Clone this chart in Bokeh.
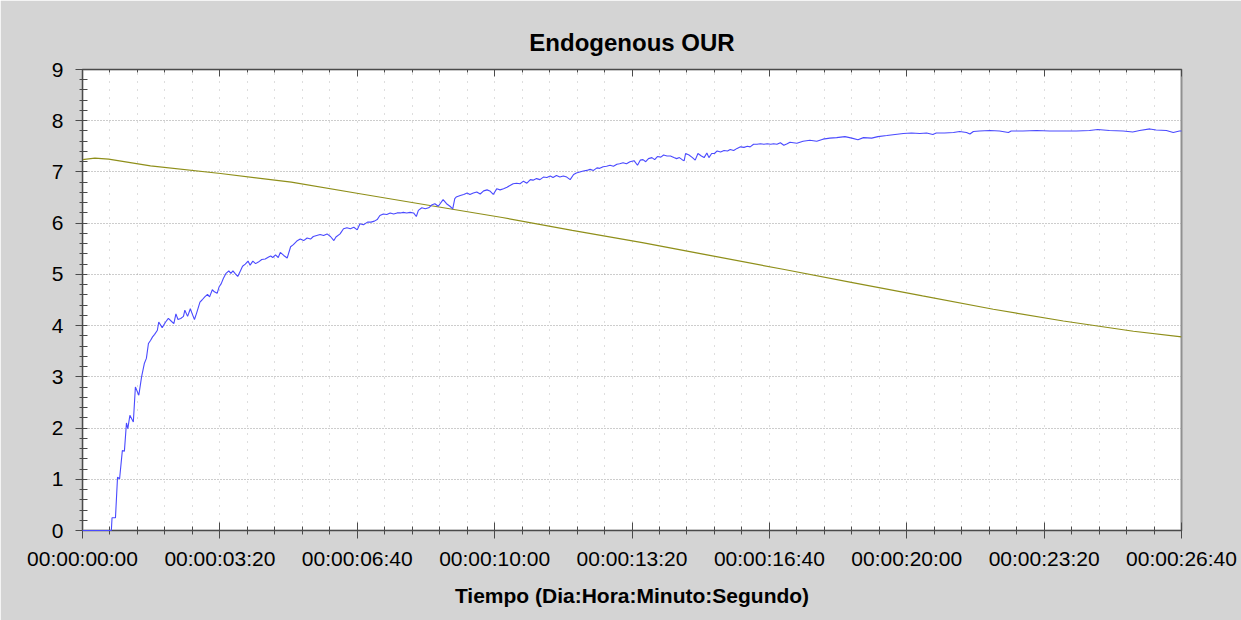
from bokeh.plotting import figure
from bokeh.models import Range1d, SingleIntervalTicker, LinearAxis, CustomJSTickFormatter
from bokeh.embed import file_html
from bokeh.resources import INLINE

# ---- data (time in seconds, OUR values) ----
our_t_a = [0, 42, 43, 48, 51, 54, 58, 61, 64, 66, 69, 74, 77, 82, 86, 90, 93, 96, 99, 102,
           105, 109, 111, 116, 121, 125, 129, 133, 136, 139, 143, 147, 149, 153, 157, 160, 163, 166, 171, 174,
           178, 182, 185, 189, 192, 196, 199, 202, 205, 209, 213, 216, 219, 222, 226, 230, 233, 237, 241, 244,
           248, 252, 256, 261, 266, 271, 274, 277, 281, 285]
our_v_a = [0, 0, 0.25, 0.25, 1.04, 1.01, 1.56, 1.55, 2.10, 1.99, 2.25, 2.12, 2.80, 2.64, 3.00, 3.26, 3.36, 3.65, 3.71, 3.78,
           3.83, 3.91, 4.07, 3.96, 4.07, 4.14, 4.09, 4.04, 4.23, 4.12, 4.14, 4.18, 4.30, 4.18, 4.33, 4.22, 4.12, 4.24, 4.46, 4.50,
           4.56, 4.61, 4.56, 4.70, 4.66, 4.63, 4.76, 4.82, 4.92, 5.02, 5.07, 5.02, 5.07, 5.02, 4.96, 5.07, 5.16, 5.20, 5.26, 5.18,
           5.26, 5.21, 5.24, 5.29, 5.30, 5.34, 5.36, 5.33, 5.38, 5.33]
our_t_b = [288, 293, 298, 303, 307, 312, 317, 322, 327, 332, 336, 341, 346, 351, 356, 361, 366, 369, 375, 380,
           385, 390, 395, 400, 404, 409, 415, 420, 425, 429, 433, 438, 443, 448, 453, 458, 463, 467, 472, 477,
           482, 486, 489, 494, 499, 504, 509, 513, 518, 525, 530, 535, 539, 542, 544, 550, 555, 560, 564, 569,
           574, 579, 584, 589, 593, 598, 603, 608, 613, 618, 623, 627, 632]
our_v_b = [5.43, 5.37, 5.32, 5.54, 5.58, 5.65, 5.69, 5.66, 5.71, 5.69, 5.74, 5.76, 5.78, 5.76, 5.79, 5.74, 5.66, 5.73, 5.79, 5.89,
           5.91, 5.89, 5.92, 5.87, 5.99, 5.97, 6.02, 6.02, 6.04, 6.07, 6.15, 6.18, 6.17, 6.20, 6.18, 6.20, 6.20, 6.21, 6.20, 6.21,
           6.20, 6.13, 6.25, 6.30, 6.28, 6.30, 6.36, 6.38, 6.33, 6.46, 6.38, 6.33, 6.28, 6.48, 6.51, 6.54, 6.56, 6.59, 6.56, 6.59,
           6.61, 6.57, 6.63, 6.65, 6.63, 6.56, 6.67, 6.65, 6.67, 6.70, 6.74, 6.77, 6.78]
our_t_c = [637, 642, 647, 652, 656, 661, 666, 671, 676, 681, 685, 690, 695, 700, 705, 710, 715, 719, 724, 729,
           734, 739, 744, 749, 753, 758, 763, 768, 773, 778, 782, 787, 792, 797, 803, 808, 812, 816, 820, 824,
           829, 833, 837, 842, 846, 851, 856, 861, 865, 869, 873, 876, 878, 883, 888, 892, 896, 901, 905, 909,
           912, 916, 920, 924, 929, 934, 939, 943, 948, 953, 958, 963, 968, 972, 977, 982, 987, 992, 997, 1002,
           1006, 1011, 1016, 1021, 1026]
our_v_c = [6.77, 6.82, 6.78, 6.85, 6.84, 6.87, 6.85, 6.90, 6.89, 6.92, 6.89, 6.93, 6.90, 6.92, 6.90, 6.85, 6.95, 6.98, 7.00, 7.02,
           7.03, 7.05, 7.03, 7.08, 7.07, 7.10, 7.11, 7.13, 7.11, 7.15, 7.16, 7.18, 7.16, 7.20, 7.22, 7.13, 7.23, 7.24, 7.20, 7.26,
           7.28, 7.24, 7.30, 7.29, 7.33, 7.31, 7.31, 7.28, 7.26, 7.28, 7.24, 7.22, 7.36, 7.33, 7.28, 7.23, 7.36, 7.31, 7.28, 7.37,
           7.28, 7.36, 7.36, 7.41, 7.39, 7.42, 7.41, 7.44, 7.42, 7.46, 7.49, 7.48, 7.50, 7.49, 7.54, 7.54, 7.55, 7.54, 7.55, 7.54,
           7.55, 7.54, 7.57, 7.52, 7.55]
our_t_d = [1030, 1040, 1049, 1059, 1069, 1078, 1088, 1098, 1110, 1120, 1129, 1137, 1149, 1158, 1171, 1183, 1195, 1207, 1219, 1229,
           1238, 1243, 1255, 1268, 1277, 1287, 1292, 1297, 1306, 1321, 1335, 1348, 1352, 1369, 1389, 1408, 1428, 1447, 1466, 1478,
           1495, 1515, 1529, 1539, 1554, 1563, 1578, 1588, 1597, 1600]
our_v_d = [7.58, 7.56, 7.60, 7.62, 7.60, 7.64, 7.66, 7.67, 7.69, 7.66, 7.63, 7.67, 7.66, 7.69, 7.71, 7.73, 7.75, 7.76, 7.75, 7.76,
           7.73, 7.76, 7.76, 7.77, 7.79, 7.77, 7.74, 7.79, 7.80, 7.81, 7.80, 7.77, 7.80, 7.80, 7.81, 7.80, 7.80, 7.80, 7.81, 7.83,
           7.81, 7.80, 7.78, 7.81, 7.84, 7.82, 7.81, 7.77, 7.80, 7.80]

do_t = [0, 18, 38, 99, 201, 304, 406, 508, 611, 713, 815, 917, 1020, 1121, 1223, 1326, 1428, 1530, 1600]
do_v = [7.24, 7.27, 7.25, 7.12, 6.97, 6.80, 6.57, 6.34, 6.11, 5.86, 5.62, 5.36, 5.10, 4.84, 4.58, 4.32, 4.09, 3.89, 3.78]

title_text = "Endogenous OUR"
x_label = "Tiempo (Dia:Hora:Minuto:Segundo)"

our_t = our_t_a + our_t_b + our_t_c + our_t_d
our_v = our_v_a + our_v_b + our_v_c + our_v_d

FONT = "Liberation Sans"
AXC = "#4a4a4a"

p = figure(width=1241, height=620, x_range=Range1d(0, 1600), y_range=Range1d(0, 9),
           output_backend="svg", toolbar_location=None,
           min_border_left=82, min_border_right=60, min_border_top=69, min_border_bottom=90)
p.border_fill_color = "#d4d4d4"
p.background_fill_color = "#ffffff"
p.outline_line_color = "#909090"
p.outline_line_width = 2

p.title.text = title_text
p.title.align = "center"
p.title.text_font = FONT
p.title.text_font_style = "bold"
p.title.text_font_size = "24px"
p.title.text_color = "#000000"
p.title.standoff = 28

xticker = SingleIntervalTicker(interval=200, num_minor_ticks=5)
yticker = SingleIntervalTicker(interval=1, num_minor_ticks=5)

fmt = CustomJSTickFormatter(code="""
const s = Math.round(tick);
const d = Math.floor(s / 86400), h = Math.floor((s % 86400) / 3600);
const m = Math.floor((s % 3600) / 60), ss = s % 60;
const pd = (n) => String(n).padStart(2, '0');
return pd(d) + ':' + pd(h) + ':' + pd(m) + ':' + pd(ss);
""")

xa = p.xaxis[0]
xa.ticker = xticker
xa.formatter = fmt
xa.axis_label = x_label
xa.axis_label_text_font = FONT
xa.axis_label_text_font_style = "bold"
xa.axis_label_text_font_size = "21px"
xa.axis_label_text_color = "#000000"
xa.axis_label_standoff = 11
xa.major_label_text_font = FONT
xa.major_label_text_font_size = "21px"
xa.major_label_text_color = "#000000"
xa.major_label_standoff = 8
xa.major_tick_in = 8
xa.major_tick_out = 8
xa.minor_tick_in = 4
xa.minor_tick_out = 4
xa.axis_line_color = AXC
xa.major_tick_line_color = AXC
xa.minor_tick_line_color = AXC

ya = p.yaxis[0]
ya.ticker = yticker
ya.major_label_text_font = FONT
ya.major_label_text_font_size = "21px"
ya.major_label_text_color = "#000000"
ya.major_label_standoff = 12
ya.major_tick_in = 1
ya.major_tick_out = 7
ya.minor_tick_in = 5
ya.minor_tick_out = 3
ya.axis_line_color = AXC
ya.major_tick_line_color = AXC
ya.minor_tick_line_color = AXC

top = LinearAxis(ticker=xticker, formatter=CustomJSTickFormatter(code="return '';"),
                 major_tick_in=7, major_tick_out=0, minor_tick_in=3, minor_tick_out=0,
                 axis_line_color=AXC, major_tick_line_color=AXC, minor_tick_line_color=AXC,
                 major_label_standoff=0, major_label_text_font_size="1px")
p.add_layout(top, "above")

p.xgrid.ticker = xticker
p.xgrid.grid_line_color = None
p.xgrid.minor_grid_line_color = "#bdbdbd"
p.xgrid.minor_grid_line_dash = "1 7"
p.ygrid.ticker = yticker
p.ygrid.grid_line_color = "#9a9a9a"
p.ygrid.grid_line_dash = "1 2"

p.line(do_t, do_v, line_color="#8f8f1a", line_width=1.2)
p.line(our_t, our_v, line_color="#4a4aff", line_width=1.1, level="overlay")

open("out.html", "w").write(file_html(p, INLINE))
